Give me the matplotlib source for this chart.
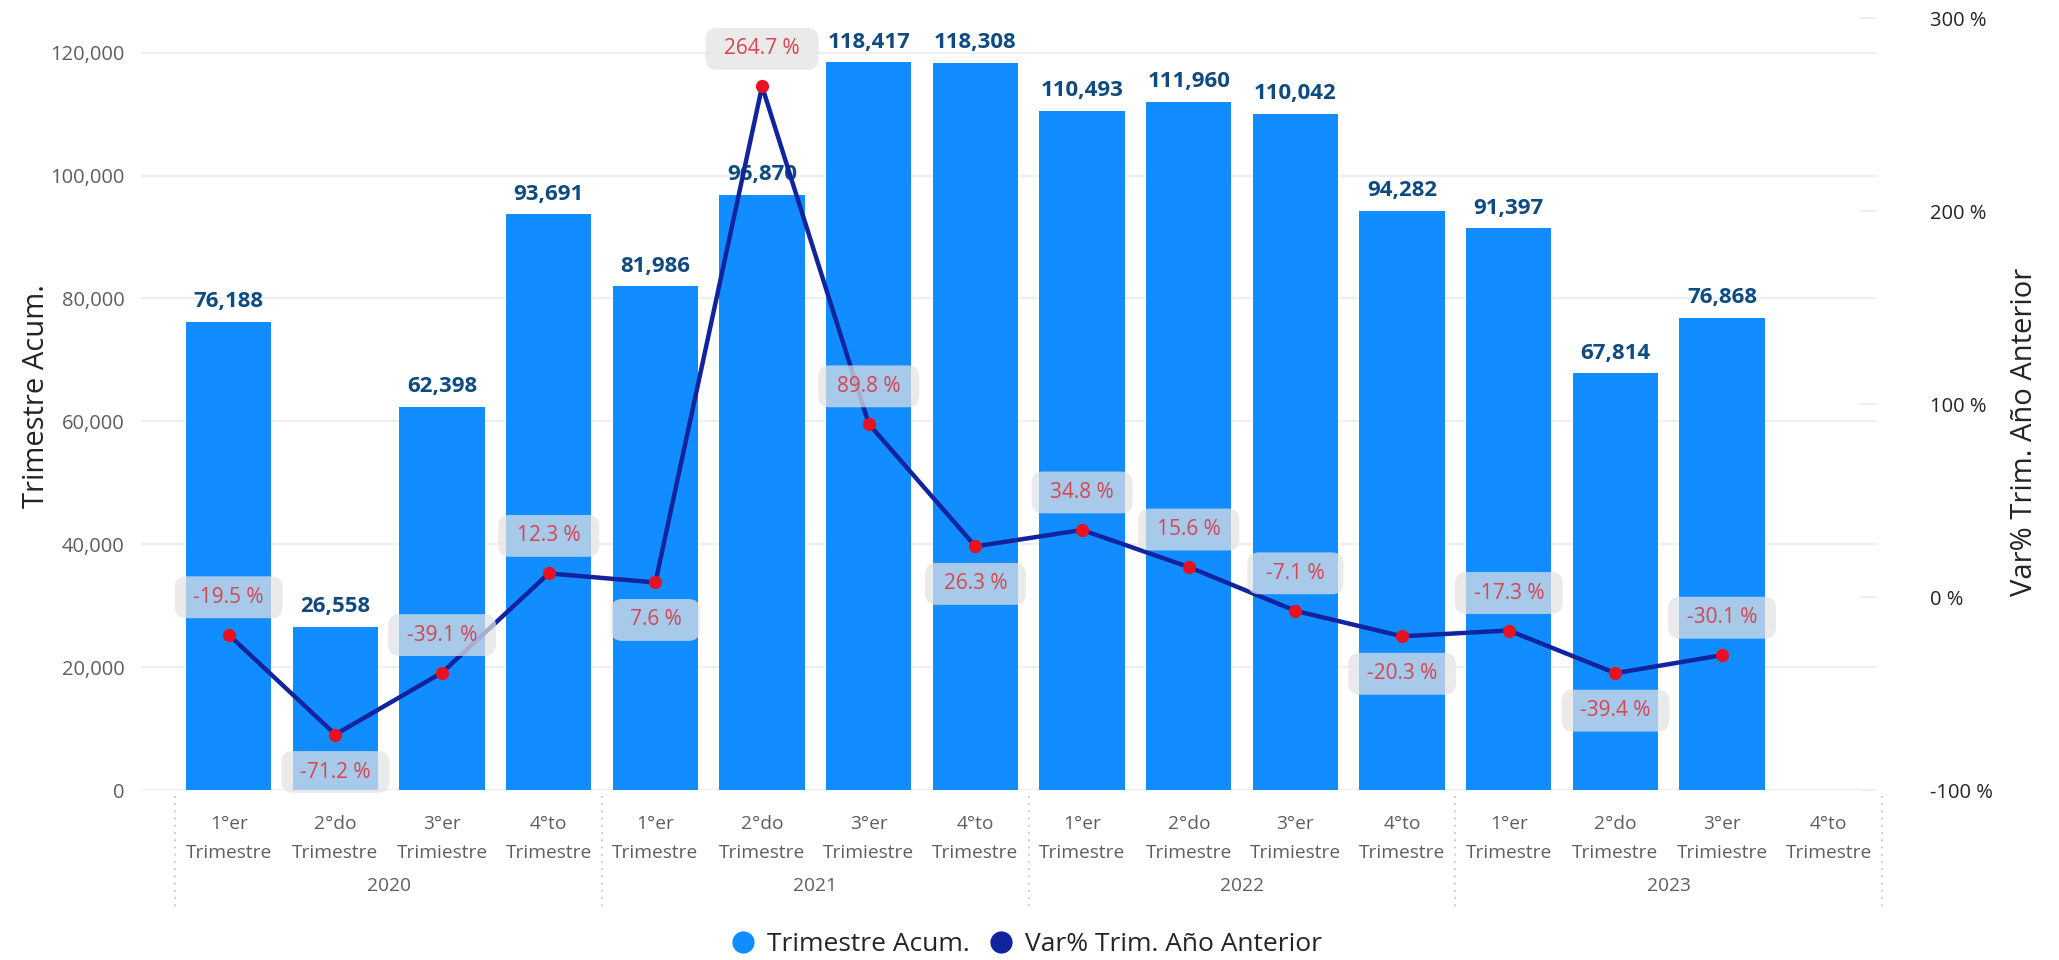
import matplotlib
matplotlib.use("Agg")
import matplotlib.pyplot as plt
from matplotlib.lines import Line2D
from matplotlib.patches import BoxStyle
import matplotlib.transforms as mtransforms
import numpy as np

plt.rcParams['font.family'] = ['Open Sans', 'DejaVu Sans']

# ---------------- data ----------------
quarters = ["1°er\nTrimestre", "2°do\nTrimestre", "3°er\nTrimiestre", "4°to\nTrimestre"] * 4
years = ["2020", "2021", "2022", "2023"]
trimestre_acum = [76188, 26558, 62398, 93691,
                  81986, 96870, 118417, 118308,
                  110493, 111960, 110042, 94282,
                  91397, 67814, 76868, None]
var_pct = [-19.5, -71.2, -39.1, 12.3,
           7.6, 264.7, 89.8, 26.3,
           34.8, 15.6, -7.1, -20.3,
           -17.3, -39.4, -30.1, None]
# placement of percentage labels (1 = above point, -1 = below)
pct_side = [1, -1, 1, 1, -1, 1, 1, -1, 1, 1, 1, -1, 1, -1, 1, None]

BAR_C = "#118DFF"
LINE_C = "#12239E"
DOT_C = "#E81123"
LBL_C = "#0F4A80"
PCT_C = "#D64550"
TICK_C = "#605E5C"
TITLE_C = "#252423"

_round = BoxStyle.Round(pad=0, rounding_size=0.55)


def pill(x0, y0, width, height, mutation_size):
    padx = 0.9 * mutation_size
    pady = 0.5 * mutation_size
    return _round(x0 - padx, y0 - pady, width + 2 * padx, height + 2 * pady, mutation_size)


fig = plt.figure(figsize=(20.59, 9.6), dpi=100)
ax = fig.add_axes([0.0686, 0.177, 0.9115 - 0.0686, 0.981 - 0.177])
ax2 = ax.twinx()

n = len(quarters)
x = np.arange(n)
bar_vals = [v if v is not None else 0 for v in trimestre_acum]
ax.bar(x, bar_vals, width=0.8, color=BAR_C, zorder=2)

ax.set_xlim(-0.82, 15.45)
ax.set_ylim(0, 125600)
yt = [0, 20000, 40000, 60000, 80000, 100000, 120000]
ax.set_yticks(yt)
ax.set_yticklabels([f"{v:,}" for v in yt])
ax.yaxis.grid(True, color="#EFEFEF", linewidth=1.6, zorder=0)
ax.set_axisbelow(True)
for s in ax.spines.values():
    s.set_visible(False)
for s in ax2.spines.values():
    s.set_visible(False)
ax.tick_params(axis='y', length=0, pad=12, labelsize=14.5, labelcolor=TICK_C)
ax.set_xticks(x)
ax.set_xticklabels(quarters, fontsize=13.8, color=TICK_C, linespacing=1.75)
ax.tick_params(axis='x', length=0, pad=18)
ax.set_ylabel("Trimestre Acum.", fontsize=21, color=TITLE_C)
ax.yaxis.set_label_coords(-0.052, 0.51)

# bar value labels
for xi, v in zip(x, trimestre_acum):
    if v is None:
        continue
    ax.annotate(f"{v:,}", (xi, v), xytext=(0, 7), textcoords="offset points",
                ha="center", va="bottom", fontsize=16, fontweight="bold",
                color=LBL_C, zorder=3)

# year labels and separators
trans = mtransforms.blended_transform_factory(ax.transData, ax.transAxes)
for i, yr in enumerate(years):
    ax.text(4 * i + 1.5, -0.124, yr, transform=trans, ha="center", va="center",
            fontsize=13.8, color=TICK_C)
for b in [-0.5, 3.5, 7.5, 11.5, 15.5]:
    ax.plot([b, b], [-0.008, -0.152], transform=trans, color="#C8C6C4",
            linestyle=(0, (1, 3)), linewidth=1.3, clip_on=False)

# line on secondary axis
xs = [xi for xi, v in zip(x, var_pct) if v is not None]
ys = [v for v in var_pct if v is not None]
ax2.plot(xs, ys, color=LINE_C, linewidth=3.2, zorder=3, solid_joinstyle="round")
ax2.plot(xs, ys, linestyle="none", marker="o", markersize=8.5, color=DOT_C, zorder=4)
ax2.set_ylim(-100, 300)
ax2.set_yticks([-100, 0, 100, 200, 300])
ax2.set_yticklabels(["-100 %", "0 %", "100 %", "200 %", "300 %"])
ax2.tick_params(axis='y', direction='in', length=12, color="#EFEFEF", width=1.5,
                pad=38, labelsize=14.5, labelcolor=TITLE_C)
ax2.set_ylabel("Var% Trim. Año Anterior", fontsize=21, color=TITLE_C)
ax2.yaxis.set_label_coords(1.077, 0.464)

for xi, v, sd in zip(x, var_pct, pct_side):
    if v is None:
        continue
    ax2.annotate(f"{v:.1f} %", (xi, v), xytext=(0, 27 * sd), textcoords="offset points",
                 ha="center", va="center", fontsize=15, color=PCT_C, zorder=6,
                 bbox=dict(boxstyle=pill, facecolor="#E3E3E3", edgecolor="none",
                           alpha=0.72))

handles = [Line2D([0], [0], marker="o", color="none", markerfacecolor=BAR_C,
                  markeredgecolor="none", markersize=16),
           Line2D([0], [0], marker="o", color="none", markerfacecolor=LINE_C,
                  markeredgecolor="none", markersize=16)]
fig.legend(handles, ["Trimestre Acum.", "Var% Trim. Año Anterior"], loc="lower center",
           bbox_to_anchor=(0.495, -0.022), ncol=2, frameon=False, fontsize=19,
           handletextpad=-0.1, columnspacing=0.2, labelcolor=TITLE_C)

fig.savefig("out.png", dpi=100)
